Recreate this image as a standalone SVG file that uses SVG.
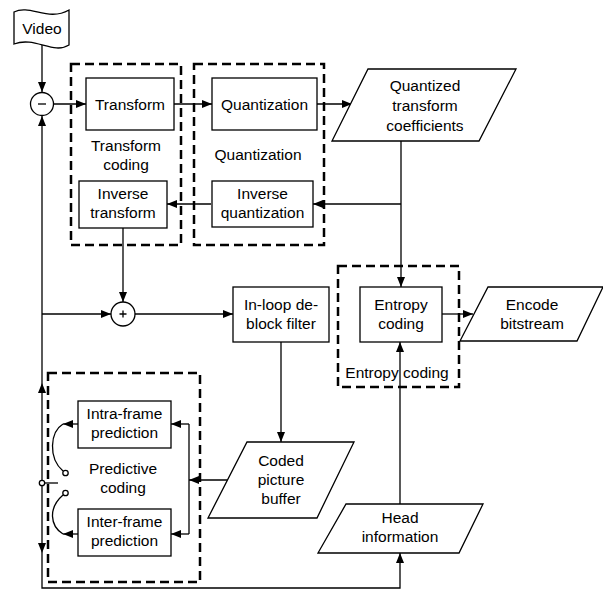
<svg xmlns="http://www.w3.org/2000/svg" width="603" height="590" viewBox="0 0 603 590">
<defs>
<marker id="ar" markerWidth="10" markerHeight="8" refX="10" refY="4" orient="auto" markerUnits="userSpaceOnUse">
<path d="M0,0 L10,4 L0,8 Z" fill="#000"/>
</marker>
<style>
.box{fill:#fff;stroke:#000;stroke-width:1.3}
.grp{fill:none;stroke:#000;stroke-width:2.5;stroke-dasharray:9 5}
.ln{fill:none;stroke:#000;stroke-width:1.3}
.arr{fill:none;stroke:#000;stroke-width:1.3;marker-end:url(#ar)}
text{font-family:"Liberation Sans",Arial,sans-serif;font-size:15.5px;fill:#000;text-anchor:middle}
</style>
</defs>
<rect width="603" height="590" fill="#fff"/>

<g id="groups">
<rect id="g-transform" class="grp" x="71" y="64" width="110" height="181"/>
<rect id="g-quant" class="grp" x="194" y="64" width="130" height="181"/>
<rect id="g-entropy" class="grp" x="338" y="266" width="121" height="121"/>
<rect id="g-pred" class="grp" x="48" y="373" width="152" height="209"/>
</g>

<g id="connectors">
<path class="arr" d="M42,45 L42,92"/>
<path class="arr" d="M53.5,104 L86,104"/>
<path class="arr" d="M174,104 L212,104"/>
<path class="arr" d="M317,104 L352,104"/>
<path class="arr" d="M401,141 L401,287"/>
<path class="arr" d="M401,204 L313,204"/>
<path class="arr" d="M211,204 L167,204"/>
<path class="arr" d="M123,228 L123,302"/>
<path class="arr" d="M42,314 L111,314"/>
<path class="arr" d="M135,314 L233,314"/>
<path class="arr" d="M442,314 L473,314"/>
<path class="arr" d="M281,342 L281,442"/>
<path class="arr" d="M400,504 L400,342"/>
<path class="arr" d="M227.5,480 L189,480"/>
<path class="ln" d="M189,424 L189,534"/>
<path class="arr" d="M189,424 L171,424"/>
<path class="arr" d="M189,534 L171,534"/>
<path class="arr" d="M78,424 L63,424"/>
<path class="arr" d="M78,534 L63,534"/>
<path class="ln" d="M63,424 C50,432 48,458 63,471"/>
<path class="ln" d="M63,495 C48,508 50,526 63,534"/>
<circle class="box" cx="65.5" cy="473" r="2.7"/>
<circle class="box" cx="65.5" cy="493" r="2.7"/>
<path class="arr" d="M42,483 L42,383"/>
<path class="arr" d="M42,383 L42,116"/>
<path class="arr" d="M42,483 L42,553"/>
<path class="arr" d="M42,553 L42,588 L400,588 L400,553"/>
<path class="ln" d="M44,483 L58,483"/>
<circle class="box" cx="42" cy="483" r="2.7"/>
</g>

<g id="video">
<path class="box" d="M14,12 C30,4 48,22 69,10 L69,45 C53,55 35,36 14,44 Z"/>
<text x="42" y="34">Video</text>
</g>

<g id="minus">
<circle class="box" cx="42" cy="104" r="11.5"/>
<path class="ln" d="M38,104 L46,104"/>
</g>

<g id="plus">
<circle class="box" cx="123" cy="314" r="12"/>
<path class="ln" d="M119.5,314 L126.5,314 M123,310.5 L123,317.5"/>
</g>

<g id="transform">
<rect class="box" x="86" y="78" width="88" height="52"/>
<text x="130" y="109.5">Transform</text>
</g>
<g id="transform-label">
<text x="126" y="151">Transform</text>
<text x="126" y="170">coding</text>
</g>

<g id="quantization">
<rect class="box" x="212" y="78" width="105" height="52"/>
<text x="264.5" y="109.5">Quantization</text>
</g>
<g id="quantization-label">
<text x="258" y="160">Quantization</text>
</g>

<g id="inverse-transform">
<rect class="box" x="79" y="181" width="88" height="47"/>
<text x="123" y="199">Inverse</text>
<text x="123" y="218">transform</text>
</g>

<g id="inverse-quantization">
<rect class="box" x="212" y="181" width="101" height="46"/>
<text x="262.5" y="199">Inverse</text>
<text x="262.5" y="218">quantization</text>
</g>

<g id="quantized-coefficients">
<path class="box" d="M368,69 L516,69 L479,141 L332,141 Z"/>
<text x="425" y="91">Quantized</text>
<text x="425" y="111">transform</text>
<text x="425" y="131">coefficients</text>
</g>

<g id="inloop">
<rect class="box" x="233" y="287" width="96" height="55"/>
<text x="281" y="310">In-loop de-</text>
<text x="281" y="329">block filter</text>
</g>

<g id="entropy">
<rect class="box" x="360" y="287" width="82" height="55"/>
<text x="401" y="310">Entropy</text>
<text x="401" y="329">coding</text>
</g>
<g id="entropy-label">
<text x="397" y="378">Entropy coding</text>
</g>

<g id="encode-bitstream">
<path class="box" d="M488,287 L603,287 L577,341 L460,341 Z"/>
<text x="532" y="310">Encode</text>
<text x="532" y="329">bitstream</text>
</g>

<g id="coded-picture-buffer">
<path class="box" d="M247,442 L354,442 L317,518 L208,518 Z"/>
<text x="281" y="466">Coded</text>
<text x="281" y="485">picture</text>
<text x="281" y="504">buffer</text>
</g>

<g id="head-information">
<path class="box" d="M346,504 L483,504 L459,553 L318,553 Z"/>
<text x="400" y="523">Head</text>
<text x="400" y="542">information</text>
</g>

<g id="intra">
<rect class="box" x="78" y="401" width="93" height="47"/>
<text x="124.5" y="419">Intra-frame</text>
<text x="124.5" y="438">prediction</text>
</g>

<g id="inter">
<rect class="box" x="78" y="509" width="93" height="47"/>
<text x="124.5" y="527">Inter-frame</text>
<text x="124.5" y="546">prediction</text>
</g>

<g id="predictive-label">
<text x="123" y="474">Predictive</text>
<text x="123" y="493">coding</text>
</g>
</svg>
